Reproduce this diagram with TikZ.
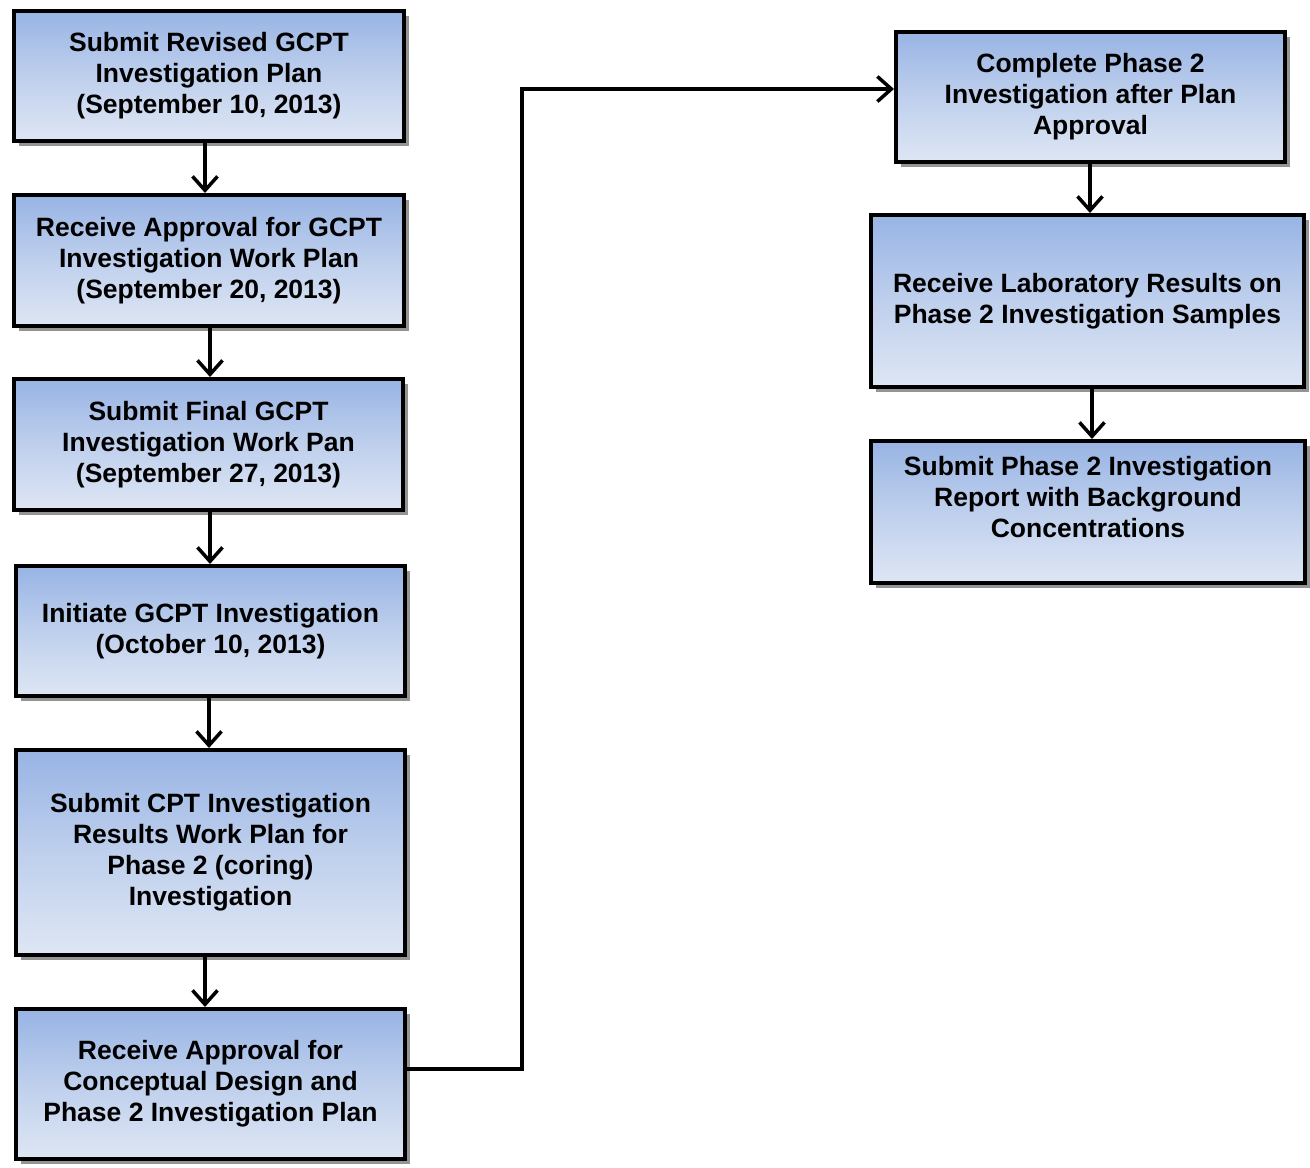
\documentclass[tikz,border=0pt]{standalone}
\usepackage{fontspec}
\setmainfont{Liberation Sans}
\usepackage{tikz}
\usetikzlibrary{arrows.meta}
\usetikzlibrary{shadows}
\definecolor{boxtop}{RGB}{152,180,228}
\definecolor{boxbot}{RGB}{222,230,244}
\tikzset{stage/.style={rectangle, draw=black, line width=4pt, top color=boxtop, bottom color=boxbot,
		middle color=boxbot!55!boxtop,
		drop shadow={shadow xshift=5pt, shadow yshift=-5pt, fill=black!42, opacity=1},
		align=center, font=\fontsize{26.5}{31}\selectfont\bfseries, inner sep=0pt},
	flow/.style={line width=3.5pt}}

\begin{document}
\begin{tikzpicture}[x=1pt, y=-1pt]
		\useasboundingbox (0,0) rectangle (1310,1168);
		\begin{scope}[every node/.style={stage}]
			\node[minimum width=390pt, minimum height=130pt](plan) at (209, 76) {Submit Revised GCPT\\Investigation Plan\\(September 10, 2013)};
			\node[minimum width=390pt, minimum height=131pt](appr) at (209, 260.5) {Receive Approval for GCPT\\Investigation Work Plan\\(September 20, 2013)};
			\node[minimum width=389pt, minimum height=131pt](final) at (208.5, 444.5) {Submit Final GCPT\\Investigation Work Pan\\(September 27, 2013)};
			\node[minimum width=389pt, minimum height=130pt](init) at (210.5, 631) {Initiate GCPT Investigation\\(October 10, 2013)};
			\node[minimum width=389pt, minimum height=205pt](cpt) at (210.5, 852.5) {Submit CPT Investigation\\Results Work Plan for\\Phase 2 (coring)\\Investigation};
			\node[minimum width=389pt, minimum height=150pt](concept) at (210.5, 1084) {Receive Approval for\\Conceptual Design and\\Phase 2 Investigation Plan};
			\node[minimum width=389pt, minimum height=130pt](phase) at (1090.5, 97) {Complete Phase 2\\Investigation after Plan\\Approval};
			\node[minimum width=433pt, minimum height=172pt](lab) at (1087.5, 301) {Receive Laboratory Results on\\Phase 2 Investigation Samples};
			\node[minimum width=434pt, minimum height=142pt](report) at (1088, 512) {Submit Phase 2 Investigation\\Report with Background\\Concentrations\\\mbox{}};
		\end{scope}
		\coordinate (low) at (522, 1069);
		\coordinate (high) at (522, 89);
		\begin{scope}[>={Straight Barb[length=14pt, width=25pt]}, every edge/.style={draw=black, flow}]
			\path [->] ([xshift=-4pt]plan.south) edge ([xshift=-4pt]plan.south |- appr.north);
			\path [->] ([xshift=1pt]appr.south) edge ([xshift=1pt]appr.south |- final.north);
			\path [->] ([xshift=1.5pt]final.south) edge ([xshift=1.5pt]final.south |- init.north);
			\path [->] ([xshift=-1.5pt]init.south) edge ([xshift=-1.5pt]init.south |- cpt.north);
			\path [->] ([xshift=-5.5pt]cpt.south) edge ([xshift=-5.5pt]cpt.south |- concept.north);
			\path [->] ([xshift=-0.5pt]phase.south) edge ([xshift=-0.5pt]phase.south |- lab.north);
			\path [->] ([xshift=4.5pt]lab.south) edge ([xshift=4.5pt]lab.south |- report.north);
		\end{scope}
		\draw [flow, -{Straight Barb[length=14pt, width=25pt]}] (low -| concept.east) -- (low) -- (high) -- (high -| phase.west);
	\end{tikzpicture}
\end{document}
